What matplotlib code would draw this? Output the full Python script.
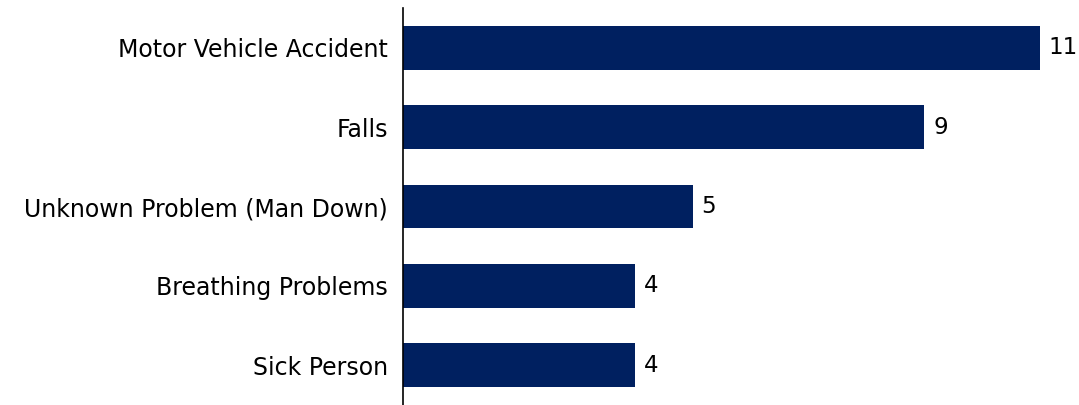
import matplotlib.pyplot as plt

categories = ["Motor Vehicle Accident", "Falls", "Unknown Problem (Man Down)",
              "Breathing Problems", "Sick Person"]
counts = [11, 9, 5, 4, 4]

fig = plt.figure(figsize=(10.79, 4.05), dpi=100)
ax = fig.add_axes([403 / 1079, 0.0, 1 - 403 / 1079, 397 / 405])

ypos = range(len(categories))
bars = ax.barh(ypos, counts, height=0.55, color="#002060")
ax.set_ylim(len(categories) - 0.5, -0.5)
ax.set_xlim(0, 11.67)

ax.set_yticks(list(ypos))
ax.set_yticklabels(categories, fontsize=17, color="black")
ax.tick_params(axis="y", length=0, pad=11)
ax.set_xticks([])

for side in ("top", "right", "bottom"):
    ax.spines[side].set_visible(False)
ax.spines["left"].set_color("black")
ax.spines["left"].set_linewidth(1.2)

for bar, v in zip(bars, counts):
    ax.text(bar.get_width() + 0.15, bar.get_y() + bar.get_height() / 2, str(v),
            va="center", ha="left", fontsize=16.5, color="black")

fig.savefig("out.png", dpi=100)
